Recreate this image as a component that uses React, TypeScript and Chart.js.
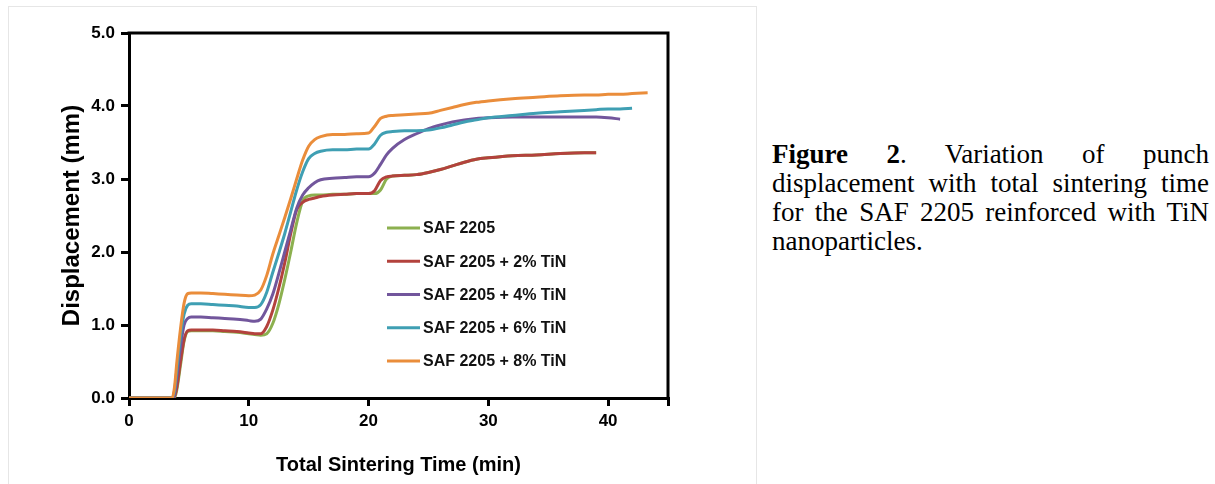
import React, { useEffect, useRef } from 'react';
import { Chart, registerables } from 'chart.js';

Chart.register(...registerables);

// Total sintering time (min)
const TIME = [0, 2, 3.6, 3.8, 4.0, 4.3, 4.6, 4.9, 5.2, 6, 7, 8, 9, 10, 10.5, 11, 11.5, 12, 12.5, 13, 13.5, 14, 14.5, 15, 15.5, 16, 17, 18, 19, 20, 20.5, 21, 21.5, 22, 23, 24, 25, 26, 27, 28, 29, 30, 32, 34, 36, 38, 39, 40, 41, 42, 43.3];

// Displacement (mm)
const SAF_2205 = [0, 0, 0, 0, 0.12, 0.45, 0.78, 0.91, 0.92, 0.92, 0.92, 0.91, 0.9, 0.88, 0.87, 0.86, 0.88, 1.02, 1.28, 1.62, 2.0, 2.4, 2.7, 2.77, 2.78, 2.78, 2.79, 2.79, 2.8, 2.8, 2.8, 2.85, 3.0, 3.04, 3.05, 3.06, 3.09, 3.13, 3.18, 3.23, 3.27, 3.29, 3.32, 3.33, 3.35, 3.36, 3.36, null, null, null, null];
const TIN_2 = [0, 0, 0, 0.02, 0.15, 0.5, 0.8, 0.92, 0.93, 0.93, 0.93, 0.92, 0.91, 0.89, 0.88, 0.88, 0.98, 1.2, 1.5, 1.85, 2.25, 2.58, 2.68, 2.72, 2.74, 2.76, 2.78, 2.79, 2.8, 2.8, 2.84, 2.98, 3.03, 3.04, 3.05, 3.06, 3.09, 3.13, 3.18, 3.23, 3.27, 3.29, 3.32, 3.33, 3.35, 3.36, 3.36, null, null, null, null];
const TIN_4 = [0, 0, 0, 0.05, 0.3, 0.7, 1.0, 1.09, 1.11, 1.11, 1.1, 1.09, 1.08, 1.06, 1.05, 1.08, 1.22, 1.42, 1.7, 2.0, 2.3, 2.6, 2.78, 2.88, 2.95, 2.99, 3.01, 3.02, 3.03, 3.03, 3.08, 3.2, 3.33, 3.42, 3.54, 3.62, 3.69, 3.74, 3.78, 3.81, 3.83, 3.84, 3.85, 3.85, 3.85, 3.85, 3.85, 3.84, 3.82, null, null];
const TIN_6 = [0, 0, 0, 0.1, 0.4, 0.85, 1.15, 1.27, 1.29, 1.29, 1.28, 1.27, 1.26, 1.24, 1.24, 1.28, 1.45, 1.72, 1.98, 2.25, 2.55, 2.85, 3.1, 3.28, 3.35, 3.38, 3.4, 3.4, 3.41, 3.41, 3.48, 3.6, 3.64, 3.65, 3.66, 3.66, 3.67, 3.7, 3.74, 3.78, 3.81, 3.84, 3.87, 3.9, 3.92, 3.94, 3.95, 3.96, 3.96, 3.97, null];
const TIN_8 = [0, 0, 0, 0.15, 0.5, 0.95, 1.3, 1.43, 1.44, 1.44, 1.43, 1.42, 1.41, 1.4, 1.41, 1.48, 1.68, 1.97, 2.22, 2.47, 2.73, 3.0, 3.26, 3.45, 3.54, 3.58, 3.61, 3.61, 3.62, 3.63, 3.72, 3.83, 3.86, 3.87, 3.88, 3.89, 3.9, 3.94, 3.98, 4.02, 4.05, 4.07, 4.1, 4.12, 4.14, 4.15, 4.15, 4.16, 4.16, 4.17, 4.18];

const SERIES_LABELS = ['SAF 2205', 'SAF 2205 + 2% TiN', 'SAF 2205 + 4% TiN', 'SAF 2205 + 6% TiN', 'SAF 2205 + 8% TiN'];
const SERIES_VALUES = [SAF_2205, TIN_2, TIN_4, TIN_6, TIN_8];
const SERIES_COLORS = ['#8cb04f', '#b3423d', '#72569c', '#3f9fb3', '#ea8d3b'];
const SERIES_ORDER = [5, 4, 3, 2, 1];

const X_TICKS = [0, 10, 20, 30, 40, 45];
const X_MAX = 45;
const Y_MAX = 5;

const X_TITLE = 'Total Sintering Time (min)';
const Y_TITLE = 'Displacement (mm)';

const AXIS_FONT = '"Liberation Sans", Arial, sans-serif';

const framePlugin = {
  id: 'frame',
  afterDraw(chart: any) {
    const { ctx, chartArea } = chart;
    ctx.save();
    ctx.strokeStyle = '#000';
    ctx.lineWidth = 3;
    ctx.beginPath();
    ctx.moveTo(chartArea.left - 1.5, chartArea.top);
    ctx.lineTo(chartArea.right, chartArea.top);
    ctx.lineTo(chartArea.right, chartArea.bottom);
    ctx.stroke();
    ctx.restore();
  },
};

const legendPlugin = {
  id: 'customLegend',
  afterDraw(chart: any) {
    const { ctx } = chart;
    const x0 = 387;
    const lineLen = 33;
    const y0 = 228;
    const step = 33.25;
    ctx.save();
    ctx.font = 'bold 16px ' + AXIS_FONT;
    ctx.textBaseline = 'middle';
    ctx.textAlign = 'left';
    chart.data.datasets.forEach((ds: any, i: number) => {
      const y = y0 + i * step;
      ctx.strokeStyle = ds.borderColor;
      ctx.lineWidth = 3;
      ctx.beginPath();
      ctx.moveTo(x0, y);
      ctx.lineTo(x0 + lineLen, y);
      ctx.stroke();
      ctx.fillStyle = '#111';
      ctx.fillText(ds.label, x0 + lineLen + 3, y + 1);
    });
    ctx.restore();
  },
};

function ChartView() {
  const ref = useRef<HTMLCanvasElement | null>(null);
  useEffect(() => {
    if (!ref.current) return;
    const datasets = SERIES_LABELS.map((label, i) => ({
      label,
      data: TIME.map((t, k) => ({ x: t, y: SERIES_VALUES[i][k] })),
      borderColor: SERIES_COLORS[i],
      backgroundColor: SERIES_COLORS[i],
      borderWidth: 3,
      pointRadius: 0,
      cubicInterpolationMode: 'monotone' as const,
      spanGaps: false,
      order: SERIES_ORDER[i],
    }));
    const chart = new Chart(ref.current, {
      type: 'line',
      data: { datasets },
      plugins: [framePlugin, legendPlugin],
      options: {
        animation: false,
        responsive: false,
        devicePixelRatio: 1,
        layout: { padding: { left: 45, top: 33, right: 92, bottom: 0 } },
        plugins: { legend: { display: false }, tooltip: { enabled: false } },
        scales: {
          x: {
            type: 'linear',
            min: 0,
            max: X_MAX,
            afterBuildTicks: (scale: any) => {
              scale.ticks = X_TICKS.map((v) => ({ value: v }));
            },
            afterFit: (scale: any) => {
              scale.height = 484 - 398;
            },
            ticks: {
              color: '#000',
              padding: 5,
              maxRotation: 0,
              font: { family: AXIS_FONT, size: 17, weight: 'bold' },
              callback: (v: any) => (Number(v) === X_MAX ? '' : String(v)),
            },
            grid: { drawOnChartArea: false, drawTicks: true, tickLength: 8, color: '#000', lineWidth: 3 },
            border: { color: '#000', width: 3 },
            title: {
              display: true,
              text: X_TITLE,
              color: '#000',
              padding: { top: 0, bottom: 7 },
              font: { family: AXIS_FONT, size: 20, weight: 'bold' },
            },
          },
          y: {
            type: 'linear',
            min: 0,
            max: Y_MAX,
            afterFit: (scale: any) => {
              scale.width = 129 - 45;
            },
            ticks: {
              stepSize: 1,
              color: '#000',
              padding: 6,
              font: { family: AXIS_FONT, size: 17, weight: 'bold' },
              callback: (v: any) => Number(v).toFixed(1),
            },
            grid: { drawOnChartArea: false, drawTicks: true, tickLength: 8, color: '#000', lineWidth: 3 },
            border: { color: '#000', width: 3 },
            title: {
              display: true,
              text: Y_TITLE,
              color: '#000',
              padding: { top: 13, bottom: 0 },
              font: { family: AXIS_FONT, size: 24, weight: 'bold' },
            },
          },
        },
      } as any,
    });
    return () => chart.destroy();
  }, []);
  return (
    <canvas
      ref={ref}
      width={760}
      height={484}
      style={{ position: 'fixed', left: 0, top: 0, width: 760, height: 484 }}
    />
  );
}

export default function App() {
  return (
    <div style={{ position: 'fixed', left: 0, top: 0, width: 1215, height: 484, background: '#fff', overflow: 'hidden' }}>
      <div
        style={{
          position: 'absolute',
          left: 8,
          top: 6,
          width: 749,
          height: 500,
          border: '1px solid #e6e6e6',
          boxSizing: 'border-box',
        }}
      />
      <ChartView />
      <div
        style={{
          position: 'absolute',
          left: 772,
          top: 140,
          width: 437,
          fontFamily: '"Liberation Serif", "Times New Roman", serif',
          fontSize: 27,
          lineHeight: '29px',
          textAlign: 'justify',
          color: '#000',
        }}
      >
        <b>Figure 2</b>. Variation of punch displacement with total sintering time for the SAF 2205 reinforced with TiN nanoparticles.
      </div>
    </div>
  );
}
